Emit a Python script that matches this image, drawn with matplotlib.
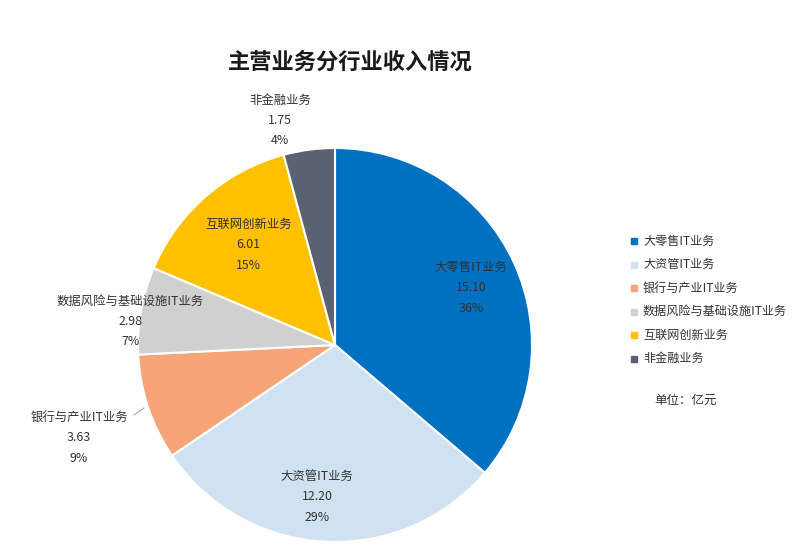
import numpy as np
import matplotlib.pyplot as plt
from matplotlib.lines import Line2D

plt.rcParams['font.family'] = ['Noto Sans CJK SC', 'DejaVu Sans']

title = '主营业务分行业收入情况'
categories = ['大零售IT业务', '大资管IT业务', '银行与产业IT业务',
              '数据风险与基础设施IT业务', '互联网创新业务', '非金融业务']
values = [15.10, 12.20, 3.63, 2.98, 6.01, 1.75]
percents = [36, 29, 9, 7, 15, 4]
colors = ['#0070C0', '#D0E2F2', '#F7A578', '#D0D0D0', '#FFC000', '#5A6271']
unit_note = '单位：亿元'

# label positions (pie radius units)
label_pos = [(0.69, 0.29), (-0.09, -0.77), (-1.30, -0.47),
             (-1.04, 0.12), (-0.44, 0.51), (-0.28, 1.14)]

fig = plt.figure(figsize=(8, 5.57), dpi=100)
ax = fig.add_axes([138 / 800, 15 / 557, 394 / 800, 394 / 557])

ax.pie(values, colors=colors, startangle=90, counterclock=False,
       wedgeprops=dict(edgecolor='white', linewidth=1.5))
ax.set_xlim(-1, 1)
ax.set_ylim(-1, 1)
ax.set_aspect('equal')
ax.axis('off')

for name, v, pct, (x, y) in zip(categories, values, percents, label_pos):
    ax.text(x, y, f'{name}\n{v:.2f}\n{pct}%', ha='center', va='center',
            fontsize=8.9, color='#333333', linespacing=1.75, clip_on=False)

# leader line for the orange slice label
ax.add_line(Line2D([-1.02, -0.97], [-0.355, -0.32], color='#aaaaaa',
                   linewidth=0.8, clip_on=False))

fig.text(350 / 800, 1 - 62 / 557, title, ha='center', va='center',
         fontsize=16, fontweight='bold', color='#1a1a1a')

# legend
for i, (name, c) in enumerate(zip(categories, colors)):
    y = 1 - (241 + i * 23.5) / 557
    fig.patches.append(plt.Rectangle((631 / 800, y - 3 / 557), 6 / 800, 6 / 557,
                                     transform=fig.transFigure, color=c))
    fig.text(643 / 800, y, name, ha='left', va='center', fontsize=8.7,
             color='#333333')

fig.text(686 / 800, 1 - 400 / 557, unit_note, ha='center', va='center',
         fontsize=9, color='#333333')

fig.savefig('out.png', dpi=100)
